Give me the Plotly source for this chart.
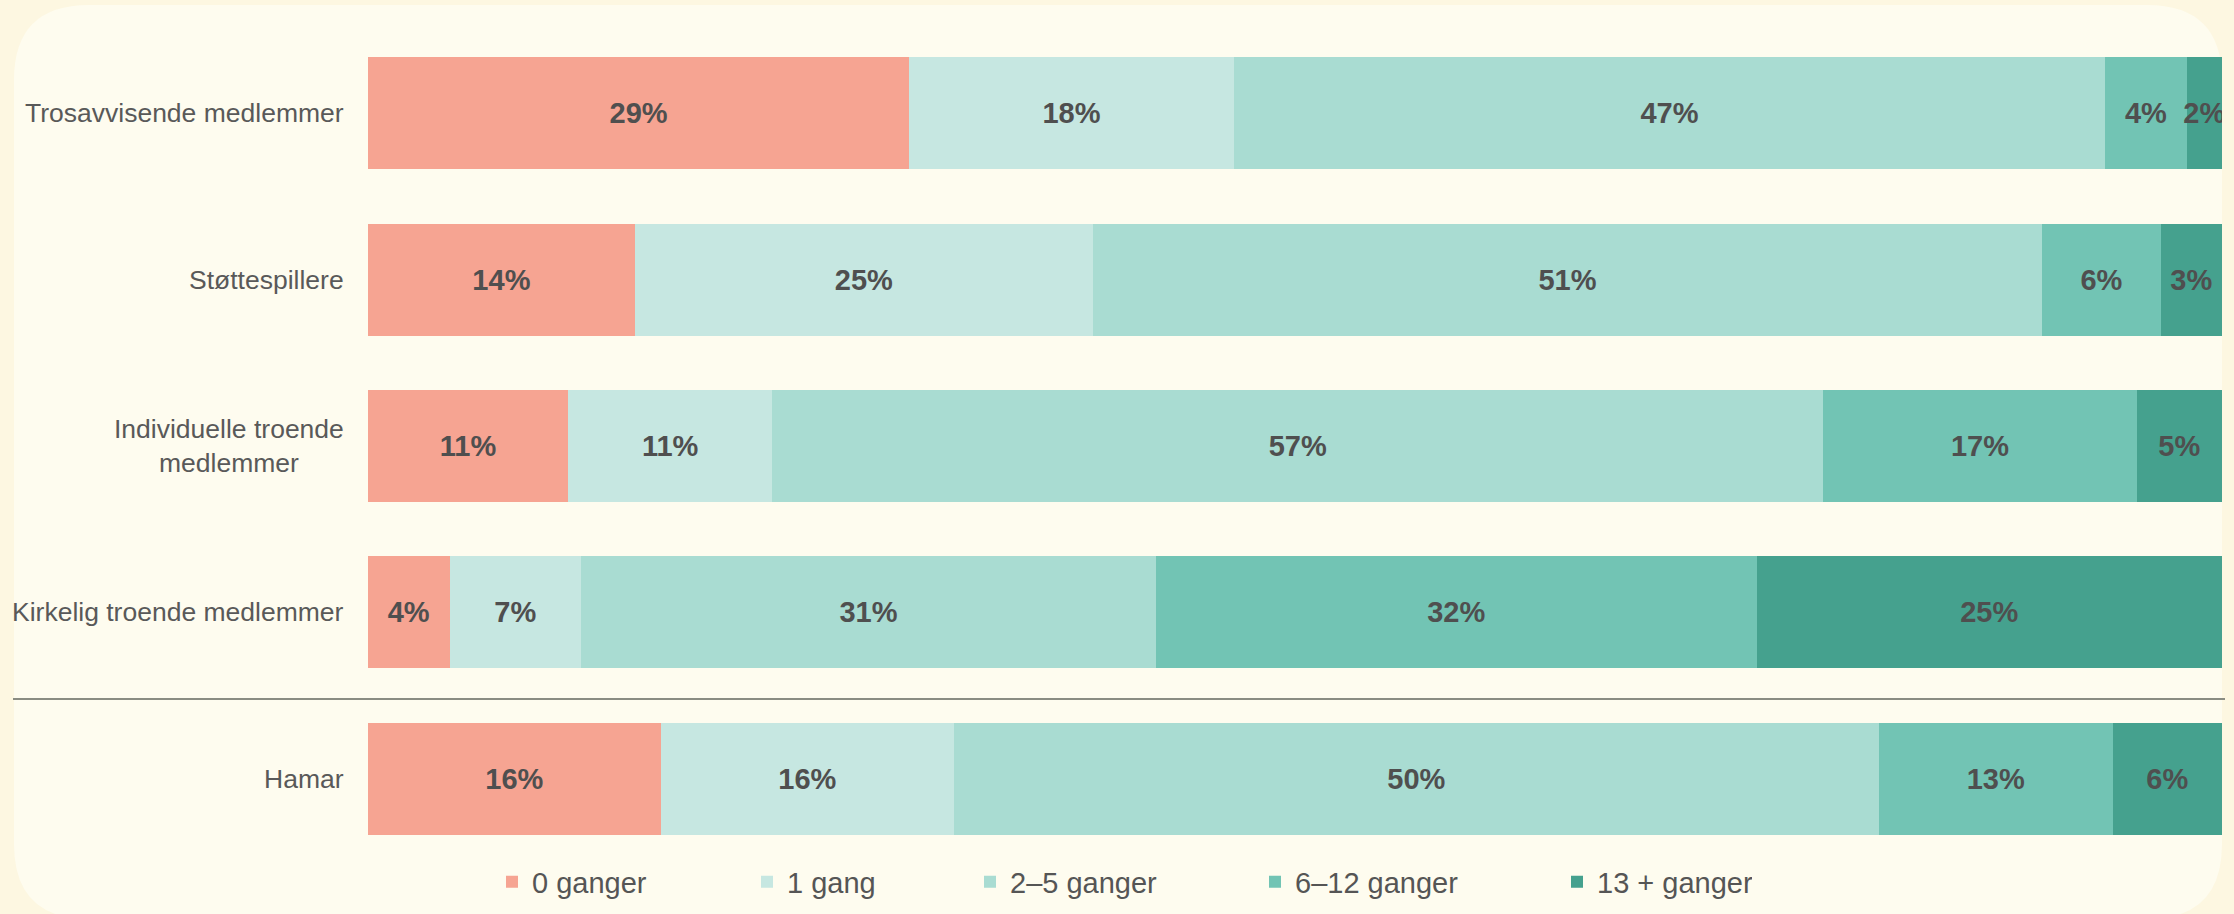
import plotly.graph_objects as go

categories = ["Trosavvisende medlemmer", "Støttespillere", "Individuelle troende<br>medlemmer",
              "Kirkelig troende medlemmer", "Hamar"]
series_names = ["0 ganger", "1 gang", "2–5 ganger", "6–12 ganger", "13 + ganger"]
v_0 = [29.2, 14.4, 10.8, 4.4, 15.8]
v_1 = [17.5, 24.7, 11.0, 7.1, 15.8]
v_2_5 = [47.0, 51.2, 56.7, 31.0, 49.9]
v_6_12 = [4.4, 6.4, 16.9, 32.4, 12.6]
v_13 = [1.9, 3.3, 4.6, 25.1, 5.9]
series_values = [v_0, v_1, v_2_5, v_6_12, v_13]
colors = ["#F6A492", "#C6E7E1", "#A9DCD2", "#72C4B4", "#45A18E"]
legend_widths = [210, 178, 240, 257, 150]

W, H = 2234, 914
ML, MR, MT, MB = 368, 12, 30, 52
PW, PH = W - ML - MR, H - MT - MB

def px(x):
    return (x - ML) / PW

def py(y):
    return (H - MB - y) / PH

fig = go.Figure()
for name, vals, col, lw in zip(series_names, series_values, colors, legend_widths):
    fig.add_trace(go.Bar(
        y=categories, x=vals, name=name, orientation="h",
        marker=dict(color=col, line=dict(width=0)),
        texttemplate="%{x:.0f}%", textposition="inside", insidetextanchor="middle",
        textangle=0, constraintext="none",
        textfont=dict(family="Liberation Sans, Arial, sans-serif", size=29, color="#4f4f4f", weight="bold"),
        legendwidth=lw, hoverinfo="skip",
    ))

# rounded panel
L, R, T, B, r = 14, 2222, 5, 919, 75
path = (f"M {px(L+r)},{py(T)} L {px(R-r)},{py(T)} Q {px(R)},{py(T)} {px(R)},{py(T+r)} "
        f"L {px(R)},{py(B-r)} Q {px(R)},{py(B)} {px(R-r)},{py(B)} "
        f"L {px(L+r)},{py(B)} Q {px(L)},{py(B)} {px(L)},{py(B-r)} "
        f"L {px(L)},{py(T+r)} Q {px(L)},{py(T)} {px(L+r)},{py(T)} Z")
fig.add_shape(type="path", path=path, xref="paper", yref="paper",
              fillcolor="#FEFCEF", line=dict(width=0), layer="below")

# separator line
fig.add_shape(type="line", xref="paper", yref="y", x0=px(13), x1=px(2225), y0=3.52, y1=3.52,
              line=dict(color="#8a8c82", width=2), layer="above")

for c in categories:
    fig.add_annotation(text=c, xref="paper", yref="y", x=px(346), y=c, xanchor="right",
                       yanchor="middle", align="center", showarrow=False,
                       font=dict(family="Liberation Sans, Arial, sans-serif", size=26.5, color="#595959"))

fig.update_layout(
    width=W, height=H, barmode="stack", bargap=0.327,
    margin=dict(l=ML, r=MR, t=MT, b=MB, autoexpand=False),
    paper_bgcolor="#FDF7E1", plot_bgcolor="rgba(0,0,0,0)",
    xaxis=dict(range=[0, 100], visible=False, fixedrange=True),
    yaxis=dict(autorange="reversed", showticklabels=False, showgrid=False, zeroline=False,
               fixedrange=True, range=[4.5, -0.5]),
    showlegend=True,
    legend=dict(orientation="h", x=px(492), xanchor="left", y=py(882), yanchor="middle",
                font=dict(family="Liberation Sans, Arial, sans-serif", size=29, color="#555555"),
                bgcolor="rgba(0,0,0,0)", traceorder="normal", itemclick=False, itemdoubleclick=False),
)
fig.write_html("out.html", config={"displayModeBar": False},
               post_script="document.body.style.margin='0';document.body.style.overflow='hidden';")
